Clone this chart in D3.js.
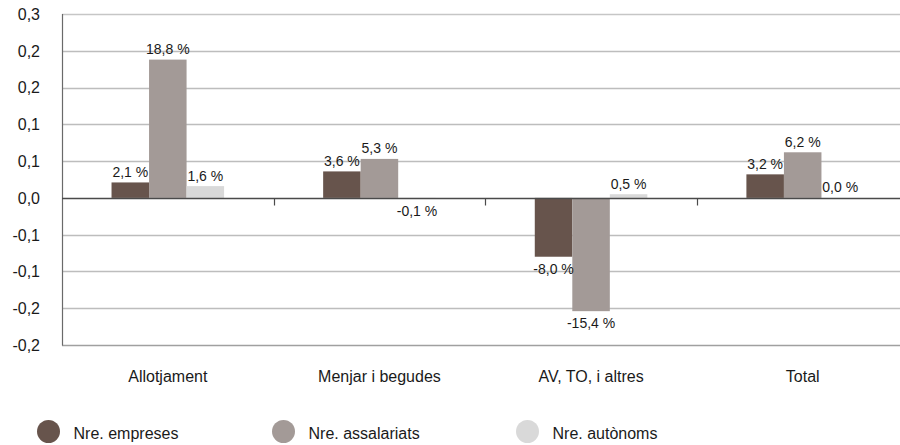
<!DOCTYPE html>
<html><head><meta charset="utf-8">
<script src="https://cdn.jsdelivr.net/npm/d3@7"></script>
<style>body{margin:0;background:#fff}svg{display:block;font-family:"Liberation Sans",Arial,sans-serif}</style>
</head><body><svg id="c" width="900" height="445"></svg>
<script>
const categories = ["Allotjament", "Menjar i begudes", "AV, TO, i altres", "Total"];
const seriesNames = ["Nre. empreses", "Nre. assalariats", "Nre. autònoms"];
const empreses = [0.021, 0.036, -0.080, 0.032];
const assalariats = [0.188, 0.053, -0.154, 0.062];
const autonoms = [0.016, -0.001, 0.005, 0.000];
const tickValues = [-0.2, -0.15, -0.1, -0.05, 0, 0.05, 0.1, 0.15, 0.2, 0.25];
const tickLabels = ["-0,2", "-0,2", "-0,1", "-0,1", "0,0", "0,1", "0,1", "0,2", "0,2", "0,3"];
const colors = ["#67544c", "#a39a97", "#d9d9d9"];

(function () {
const seriesValues = [empreses, assalariats, autonoms];
const svg = d3.select("#c");
const pL = 62, pR = 908.5, pT = 14, pB = 345;
const y = d3.scaleLinear().domain([-0.2, 0.25]).range([pB, pT]);
const x = d3.scaleBand().domain(categories).range([pL, pR]).padding(0);
const x1 = d3.scaleBand().domain(d3.range(3)).range([0, x.bandwidth()]).paddingInner(0).paddingOuter(1.32);

// gridlines
svg.append("g").selectAll("line").data(tickValues.filter(v => v !== 0)).join("line")
  .attr("x1", pL).attr("x2", 900).attr("y1", d => Math.round(y(d)) + 0.5).attr("y2", d => Math.round(y(d)) + 0.5)
  .attr("stroke", (d) => d === 0.25 ? "#c6c6c6" : (d === -0.2 ? "#a0a0a0" : "#bdbdbd")).attr("stroke-width", 1.3);

// y tick labels
svg.append("g").selectAll("text").data(tickValues).join("text")
  .attr("x", 40).attr("y", d => y(d)).attr("dy", "0.37em").attr("text-anchor", "end")
  .attr("font-size", 16).attr("fill", "#1a1a1a").text((d, i) => tickLabels[i]);

// left axis line
svg.append("line").attr("x1", pL + 0.5).attr("x2", pL + 0.5).attr("y1", pT).attr("y2", pB + 0.5)
  .attr("stroke", "#6a6a6a").attr("stroke-width", 1.2);

// bars
const flat = [];
categories.forEach((c, ci) => seriesValues.forEach((s, si) => flat.push({c, si, v: s[ci]})));
svg.append("g").selectAll("rect").data(flat).join("rect")
  .attr("x", d => x(d.c) + x1(d.si))
  .attr("width", x1.bandwidth())
  .attr("y", d => Math.min(y(d.v), y(0)))
  .attr("height", d => Math.abs(y(d.v) - y(0)))
  .attr("fill", d => colors[d.si]);

// zero axis
const y0 = Math.round(y(0)) + 0.5;
svg.append("line").attr("x1", pL).attr("x2", 900).attr("y1", y0).attr("y2", y0)
  .attr("stroke", "#4a4a4a").attr("stroke-width", 1.4);
svg.append("g").selectAll("line").data(categories.slice(1)).join("line")
  .attr("x1", d => Math.round(x(d)) + 0.5).attr("x2", d => Math.round(x(d)) + 0.5)
  .attr("y1", y0).attr("y2", y0 + 7).attr("stroke", "#4a4a4a").attr("stroke-width", 1.2);

// value labels
const fmt = v => d3.format(".1f")(v * 100).replace(".", ",").replace("\u2212", "-") + " %";
svg.append("g").selectAll("text").data(flat).join("text")
  .attr("x", d => x(d.c) + x1(d.si) + x1.bandwidth() / 2)
  .attr("y", d => d.v >= 0 ? y(d.v) - 5.5 : y(d.v) + 17)
  .attr("text-anchor", "middle").attr("font-size", 14).attr("fill", "#1a1a1a")
  .text(d => fmt(d.v));

// category labels
svg.append("g").selectAll("text").data(categories).join("text")
  .attr("x", d => x(d) + x.bandwidth() / 2).attr("y", 382)
  .attr("text-anchor", "middle").attr("font-size", 16).attr("fill", "#1a1a1a").text(d => d);

// legend
const legX = [48.5, 283.5, 527.5];
const lg = svg.append("g").selectAll("g").data(seriesNames).join("g");
lg.append("circle").attr("cx", (d, i) => legX[i]).attr("cy", 431.5).attr("r", 11.5).attr("fill", (d, i) => colors[i]);
lg.append("text").attr("x", (d, i) => legX[i] + 25).attr("y", 439).attr("font-size", 16).attr("fill", "#1a1a1a").text(d => d);
})();
</script></body></html>
